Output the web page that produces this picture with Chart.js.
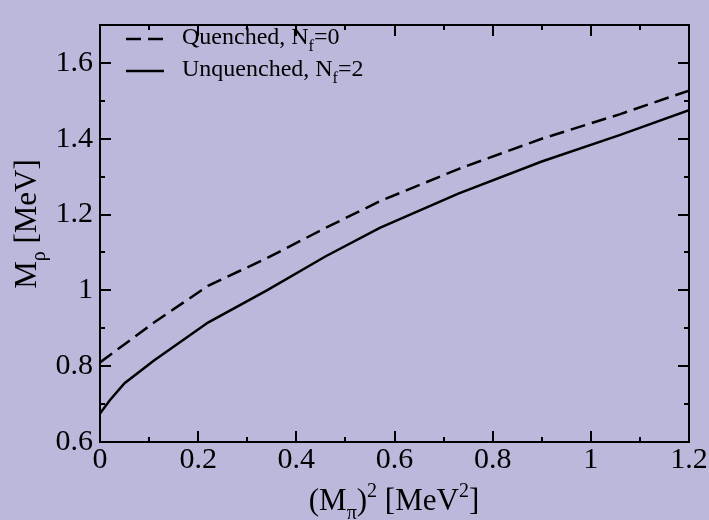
<!DOCTYPE html>
<html>
<head>
<meta charset="utf-8">
<script src="https://cdn.jsdelivr.net/npm/chart.js@4.4.1/dist/chart.umd.min.js"></script>
<style>
  html, body { margin: 0; padding: 0; background: #bbb8dc; }
  #wrap { width: 709px; height: 520px; }
</style>
</head>
<body>
<div id="wrap"><canvas id="c" width="709" height="520"></canvas></div>
<script>
// ---- data ----
const quenchedX = [0, 0.11, 0.22, 0.34, 0.46, 0.57, 0.73, 0.90, 1.06, 1.20];
const quenchedY = [0.81, 0.915, 1.012, 1.085, 1.165, 1.235, 1.32, 1.40, 1.465, 1.527];
const unquenchedX = [0, 0.02, 0.05, 0.11, 0.22, 0.34, 0.46, 0.57, 0.73, 0.90, 1.06, 1.20];
const unquenchedY = [0.675, 0.71, 0.755, 0.815, 0.915, 1.0, 1.09, 1.165, 1.255, 1.34, 1.41, 1.475];

const xTicks = [0, 0.2, 0.4, 0.6, 0.8, 1.0, 1.2];
const xTickLabels = ['0', '0.2', '0.4', '0.6', '0.8', '1', '1.2'];
const xMinorTicks = [0.1, 0.3, 0.5, 0.7, 0.9, 1.1];
const yTicks = [0.6, 0.8, 1.0, 1.2, 1.4, 1.6];
const yTickLabels = ['0.6', '0.8', '1', '1.2', '1.4', '1.6'];
const yMinorTicks = [0.7, 0.9, 1.1, 1.3, 1.5, 1.7];

const seriesNames = ['Quenched', 'Unquenched'];
const seriesNf = ['0', '2'];

const BG = '#bbb8dc';
const SERIF = "'Liberation Serif', 'DejaVu Serif', serif";

const toPts = (xs, ys) => xs.map((x, i) => ({ x: x, y: ys[i] }));

const bgPlugin = {
  id: 'bg',
  beforeDraw(chart) {
    const ctx = chart.ctx;
    ctx.save();
    ctx.fillStyle = BG;
    ctx.fillRect(0, 0, chart.width, chart.height);
    ctx.restore();
  }
};

function drawSubText(ctx, parts, x, y, baseSize) {
  let cx = x;
  for (const p of parts) {
    let size = baseSize, dy = 0;
    if (p.mode === 'sub') { size = Math.round(baseSize * 0.66); dy = baseSize * 0.28; }
    if (p.mode === 'sup') { size = Math.round(baseSize * 0.66); dy = -baseSize * 0.42; }
    ctx.font = size + 'px ' + SERIF;
    ctx.fillText(p.t, cx, y + dy);
    cx += ctx.measureText(p.t).width;
  }
  return cx - x;
}
function measureParts(ctx, parts, baseSize) {
  let w = 0;
  for (const p of parts) {
    const size = p.mode === 'n' ? baseSize : Math.round(baseSize * 0.66);
    ctx.font = size + 'px ' + SERIF;
    w += ctx.measureText(p.t).width;
  }
  return w;
}

const decorPlugin = {
  id: 'decor',
  afterDraw(chart) {
    const ctx = chart.ctx;
    const a = chart.chartArea;
    const xs = chart.scales.x, ys = chart.scales.y;
    ctx.save();
    ctx.strokeStyle = '#000';
    ctx.lineWidth = 2;
    const MAJ = 11, MIN = 5;
    const xt = xTicks.map(v => [v, MAJ]).concat(xMinorTicks.map(v => [v, MIN]));
    for (const [v, len] of xt) {
      const px = Math.round(xs.getPixelForValue(v));
      ctx.beginPath();
      ctx.moveTo(px, a.bottom); ctx.lineTo(px, a.bottom - len);
      ctx.moveTo(px, a.top); ctx.lineTo(px, a.top + len);
      ctx.stroke();
    }
    const yt = yTicks.map(v => [v, MAJ]).concat(yMinorTicks.map(v => [v, MIN]));
    for (const [v, len] of yt) {
      const py = Math.round(ys.getPixelForValue(v));
      ctx.beginPath();
      ctx.moveTo(a.left, py); ctx.lineTo(a.left + len, py);
      ctx.moveTo(a.right, py); ctx.lineTo(a.right - len, py);
      ctx.stroke();
    }
    ctx.strokeRect(a.left, a.top, a.right - a.left, a.bottom - a.top);

    // legend
    ctx.fillStyle = '#000';
    ctx.textBaseline = 'alphabetic';
    ctx.textAlign = 'left';
    const ds = chart.data.datasets;
    const legY = [39, 71];
    const txtY = [44, 76];
    for (let i = 0; i < ds.length; i++) {
      ctx.save();
      ctx.lineWidth = ds[i].borderWidth;
      ctx.setLineDash(ds[i].borderDash || []);
      ctx.beginPath();
      ctx.moveTo(126, legY[i]); ctx.lineTo(164, legY[i]);
      ctx.stroke();
      ctx.restore();
      drawSubText(ctx, [
        { t: seriesNames[i] + ', N', mode: 'n' },
        { t: 'f', mode: 'sub' },
        { t: '=' + seriesNf[i], mode: 'n' }
      ], 182, txtY[i], 24);
    }

    // x title
    const xParts = [
      { t: '(M', mode: 'n' }, { t: 'π', mode: 'sub' }, { t: ')', mode: 'n' },
      { t: '2', mode: 'sup' }, { t: ' [MeV', mode: 'n' }, { t: '2', mode: 'sup' }, { t: ']', mode: 'n' }
    ];
    const TS = 31;
    const xw = measureParts(ctx, xParts, TS);
    drawSubText(ctx, xParts, 394 - xw / 2, 510, TS);

    // y title
    const yParts = [{ t: 'M', mode: 'n' }, { t: 'ρ', mode: 'sub' }, { t: ' [MeV]', mode: 'n' }];
    const yw = measureParts(ctx, yParts, TS);
    ctx.save();
    ctx.translate(36, 224);
    ctx.rotate(-Math.PI / 2);
    drawSubText(ctx, yParts, -yw / 2, 0, TS);
    ctx.restore();

    ctx.restore();
  }
};

new Chart(document.getElementById('c'), {
  type: 'line',
  data: {
    datasets: [
      {
        label: 'Quenched, Nf=0',
        data: toPts(quenchedX, quenchedY),
        borderColor: '#000',
        borderWidth: 2.5,
        borderDash: [15, 7],
        pointRadius: 0,
        tension: 0,
        fill: false
      },
      {
        label: 'Unquenched, Nf=2',
        data: toPts(unquenchedX, unquenchedY),
        borderColor: '#000',
        borderWidth: 2.5,
        pointRadius: 0,
        tension: 0,
        fill: false
      }
    ]
  },
  options: {
    responsive: false,
    animation: false,
    devicePixelRatio: 1,
    layout: { padding: { left: 0, top: 7, right: 20, bottom: 0 } },
    plugins: { legend: { display: false }, tooltip: { enabled: false }, title: { display: false } },
    scales: {
      x: {
        type: 'linear',
        min: 0, max: 1.2,
        afterBuildTicks: s => { s.ticks = xTicks.map(v => ({ value: v })); },
        afterFit: s => { s.height = 78; },
        grid: { display: false, drawTicks: false },
        border: { display: false },
        ticks: {
          color: '#000',
          font: { family: SERIF, size: 30 },
          padding: 0,
          maxRotation: 0,
          autoSkip: false,
          callback: (v, i) => xTickLabels[i]
        }
      },
      y: {
        type: 'linear',
        min: 0.6, max: 1.7,
        afterBuildTicks: s => { s.ticks = yTicks.map(v => ({ value: v })); },
        afterFit: s => { s.width = 100; },
        grid: { display: false, drawTicks: false },
        border: { display: false },
        ticks: {
          color: '#000',
          font: { family: SERIF, size: 30 },
          padding: 7,
          autoSkip: false,
          callback: (v, i) => yTickLabels[i]
        }
      }
    }
  },
  plugins: [bgPlugin, decorPlugin]
});
</script>
</body>
</html>
